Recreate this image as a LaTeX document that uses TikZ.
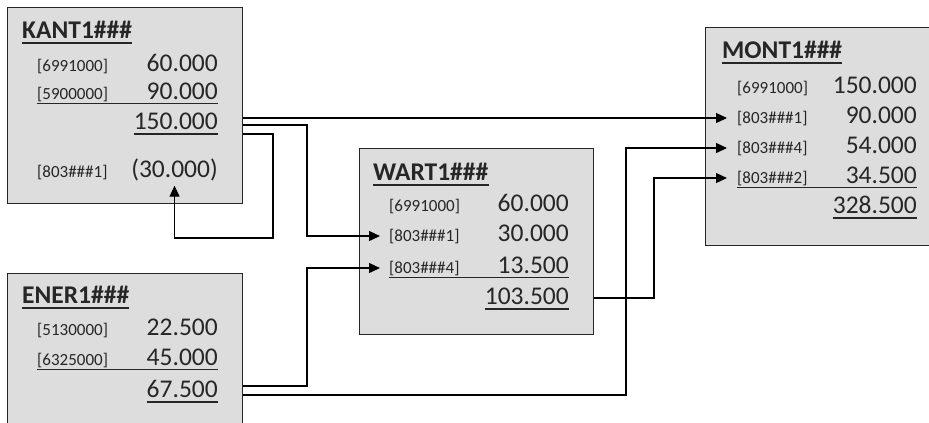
\documentclass[tikz,border=0pt]{standalone}
\usepackage{fontspec}
\setmainfont{Carlito}
\usetikzlibrary{arrows.meta,positioning}

\definecolor{boxgray}{RGB}{221,221,221}
\definecolor{inkgray}{RGB}{38,38,38}

\tikzset{
    acct/.style={draw=black!85, line width=1.3pt, fill=boxgray, anchor=north west, inner sep=0pt},
    ttl/.style={anchor=base west, inner sep=0pt, text=inkgray, font=\fontsize{25.5}{30}\selectfont\bfseries},
    lbl/.style={anchor=base west, inner sep=0pt, text=inkgray, font=\fontsize{17}{20}\selectfont},
    val/.style={anchor=base east, inner sep=0pt, text=inkgray, font=\fontsize{25.5}{30}\selectfont},
    sumline/.style={line width=1pt, draw=inkgray},
    totline/.style={line width=2.6pt, draw=inkgray},
    link/.style={line width=1.3pt, -{Triangle[length=11pt,width=10pt]}}
}

\begin{document}
\begin{tikzpicture}[x=1pt, y=-1pt]
    \useasboundingbox (0,0) rectangle (929,423);
    \clip (0,0) rectangle (929,423);

    % KANT box
    \node[acct, minimum width=235pt, minimum height=196pt] (kant) at (7,7) {};
    \node[ttl] (kant-t) at (22,38) {KANT1\#\#\#};
    \draw[sumline, line width=1.4pt] ([yshift=-5pt]kant-t.base west) -- ([yshift=-5pt]kant-t.base east);
    \node[lbl] (kant-l1) at (37,71) {[6991000]};
    \node[val] (kant-v1) at (218,71) {60.000};
    \node[lbl] (kant-l2) at (37,99) {[5900000]};
    \node[val] (kant-v2) at (218,99) {90.000};
    \draw[sumline] ([yshift=-4pt]kant-l2.base west) -- ([yshift=-4pt]kant-v2.base east);
    \node[val] (kant-v3) at (218,129) {150.000};
    \draw[totline] ([yshift=-5pt]kant-v3.base west) -- ([yshift=-5pt]kant-v3.base east);
    \node[lbl] (kant-l4) at (37,177) {[803\#\#\#1]};
    \node[val] (kant-v4) at (218,177) {(30.000)};

    % WART box
    \node[acct, minimum width=234pt, minimum height=186pt] (wart) at (359,148) {};
    \node[ttl] (wart-t) at (373,180) {WART1\#\#\#};
    \draw[sumline, line width=1.4pt] ([yshift=-5pt]wart-t.base west) -- ([yshift=-5pt]wart-t.base east);
    \node[lbl] (wart-l1) at (389,211) {[6991000]};
    \node[val] (wart-v1) at (569,211) {60.000};
    \node[lbl] (wart-l2) at (389,241) {[803\#\#\#1]};
    \node[val] (wart-v2) at (569,241) {30.000};
    \node[lbl] (wart-l3) at (389,273) {[803\#\#\#4]};
    \node[val] (wart-v3) at (569,273) {13.500};
    \draw[sumline] ([yshift=-4pt]wart-l3.base west) -- ([yshift=-4pt]wart-v3.base east);
    \node[val] (wart-v4) at (569,304) {103.500};
    \draw[totline] ([yshift=-5pt]wart-v4.base west) -- ([yshift=-5pt]wart-v4.base east);

    % MONT box
    \node[acct, minimum width=240pt, minimum height=218pt] (mont) at (705,27) {};
    \node[ttl] (mont-t) at (722,58) {MONT1\#\#\#};
    \draw[sumline, line width=1.4pt] ([yshift=-5pt]mont-t.base west) -- ([yshift=-5pt]mont-t.base east);
    \node[lbl] (mont-l1) at (737,93) {[6991000]};
    \node[val] (mont-v1) at (917,93) {150.000};
    \node[lbl] (mont-l2) at (737,123) {[803\#\#\#1]};
    \node[val] (mont-v2) at (917,123) {90.000};
    \node[lbl] (mont-l3) at (737,153) {[803\#\#\#4]};
    \node[val] (mont-v3) at (917,153) {54.000};
    \node[lbl] (mont-l4) at (737,183) {[803\#\#\#2]};
    \node[val] (mont-v4) at (917,183) {34.500};
    \draw[sumline] ([yshift=-4pt]mont-l4.base west) -- ([yshift=-4pt]mont-v4.base east);
    \node[val] (mont-v5) at (917,213) {328.500};
    \draw[totline] ([yshift=-5pt]mont-v5.base west) -- ([yshift=-5pt]mont-v5.base east);

    % ENER box
    \node[acct, minimum width=235pt, minimum height=200pt] (ener) at (7,273) {};
    \node[ttl] (ener-t) at (22,303) {ENER1\#\#\#};
    \draw[sumline, line width=1.4pt] ([yshift=-5pt]ener-t.base west) -- ([yshift=-5pt]ener-t.base east);
    \node[lbl] (ener-l1) at (37,335) {[5130000]};
    \node[val] (ener-v1) at (218,335) {22.500};
    \node[lbl] (ener-l2) at (37,365) {[6325000]};
    \node[val] (ener-v2) at (218,365) {45.000};
    \draw[sumline] ([yshift=-4pt]ener-l2.base west) -- ([yshift=-4pt]ener-v2.base east);
    \node[val] (ener-v3) at (218,397) {67.500};
    \draw[totline] ([yshift=-5pt]ener-v3.base west) -- ([yshift=-5pt]ener-v3.base east);

    % Connections
    \draw[link] (kant.east |- mont-l2.west) -- ([xshift=-10pt]mont-l2.west);
    \draw[link] (kant.east |- 0,125) -- (307,125) |- ([xshift=-9pt]wart-l2.west);
    \draw[link] (kant.east |- 0,134) -| (273,238) -| ([yshift=-5pt]kant-v4.south);
    \draw[link] (ener.east |- 0,386) -- (307,386) |- ([xshift=-9pt]wart-l3.west);
    \draw[link] (ener.east |- 0,395) -- (626,395) |- ([xshift=-10pt]mont-l3.west);
    \draw[link] (wart.east |- 0,298) -- (654,298) |- ([xshift=-10pt]mont-l4.west);
\end{tikzpicture}
\end{document}
